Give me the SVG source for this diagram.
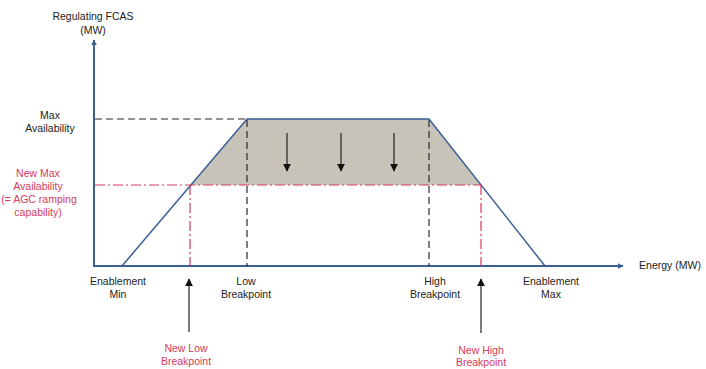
<svg xmlns="http://www.w3.org/2000/svg" width="706" height="369" viewBox="0 0 706 369">
  <defs>
    <marker id="axisHead" viewBox="0 0 10 10" refX="9" refY="5" markerWidth="6" markerHeight="6" orient="auto" markerUnits="userSpaceOnUse">
      <path d="M0,0 L10,5 L0,10 z" fill="#3b5e95"/>
    </marker>
    <marker id="blackHead" viewBox="0 0 10 10" refX="9" refY="5" markerWidth="8" markerHeight="8" orient="auto" markerUnits="userSpaceOnUse">
      <path d="M0,0 L10,5 L0,10 z" fill="#111"/>
    </marker>
  </defs>
  <style>
    text { font-family: "Liberation Sans", Arial, sans-serif; font-size: 10.5px; fill: #222; text-anchor: middle; }
    text.red { fill: #d63a5a; }
    .axis { stroke: #3b5e95; stroke-width: 2; fill: none; }
    .curve { stroke: #3b5e95; stroke-width: 1.5; fill: none; }
    .blk-dash { stroke: #2a2a2a; stroke-width: 1.2; stroke-dasharray: 7 4; fill: none; }
    .red-dd { stroke: #d63a5a; stroke-width: 1.2; stroke-dasharray: 10 3 2 3; fill: none; }
    .arrow { stroke: #222; stroke-width: 1.2; fill: none; }
  </style>

  <rect width="706" height="369" fill="#ffffff"/>

  <!-- reduced availability band -->
  <g id="band">
    <polygon points="191,185 247,119 429,119 481,185" fill="#c8c3b8"/>
  </g>

  <g id="connectors">
    <!-- axes -->
    <line class="axis" x1="94" y1="267" x2="94" y2="40" marker-end="url(#axisHead)"/>
    <line class="axis" x1="93" y1="266" x2="623" y2="266" marker-end="url(#axisHead)"/>
    <!-- availability curve -->
    <polyline class="curve" points="122,266 247,119 429,119 545,266"/>
    <!-- original levels -->
    <line class="blk-dash" x1="95" y1="119" x2="247" y2="119"/>
    <line class="blk-dash" x1="247" y1="120" x2="247" y2="266"/>
    <line class="blk-dash" x1="429" y1="120" x2="429" y2="266"/>
    <!-- new levels -->
    <line class="red-dd" x1="95" y1="185" x2="481" y2="185"/>
    <line class="red-dd" x1="190" y1="185" x2="190" y2="266"/>
    <line class="red-dd" x1="481" y1="185" x2="481" y2="266"/>
    <!-- reduction arrows -->
    <line class="arrow" x1="287" y1="133" x2="287" y2="171" marker-end="url(#blackHead)"/>
    <line class="arrow" x1="341" y1="133" x2="341" y2="171" marker-end="url(#blackHead)"/>
    <line class="arrow" x1="394" y1="133" x2="394" y2="171" marker-end="url(#blackHead)"/>
    <!-- pointers to new breakpoints -->
    <line class="arrow" x1="189" y1="332" x2="189" y2="279" marker-end="url(#blackHead)"/>
    <line class="arrow" x1="481" y1="333" x2="481" y2="279" marker-end="url(#blackHead)"/>
  </g>

  <g id="y-axis-label">
    <text x="93" y="20">Regulating FCAS</text>
    <text x="93" y="34">(MW)</text>
  </g>
  <g id="x-axis-label">
    <text x="670" y="269">Energy (MW)</text>
  </g>
  <g id="max-availability">
    <text x="50" y="119">Max</text>
    <text x="50" y="132">Availability</text>
  </g>
  <g id="new-max-availability">
    <text class="red" x="38" y="177">New Max</text>
    <text class="red" x="38" y="190">Availability</text>
    <text class="red" x="39" y="203">(= AGC ramping</text>
    <text class="red" x="38" y="216">capability)</text>
  </g>
  <g id="enablement-min">
    <text x="118" y="285">Enablement</text>
    <text x="118" y="298">Min</text>
  </g>
  <g id="low-breakpoint">
    <text x="246" y="285">Low</text>
    <text x="246" y="298">Breakpoint</text>
  </g>
  <g id="high-breakpoint">
    <text x="435" y="285">High</text>
    <text x="435" y="298">Breakpoint</text>
  </g>
  <g id="enablement-max">
    <text x="551" y="285">Enablement</text>
    <text x="551" y="298">Max</text>
  </g>
  <g id="new-low-breakpoint">
    <text class="red" x="186" y="352">New Low</text>
    <text class="red" x="186" y="365">Breakpoint</text>
  </g>
  <g id="new-high-breakpoint">
    <text class="red" x="481" y="354">New High</text>
    <text class="red" x="481" y="366">Breakpoint</text>
  </g>
</svg>
